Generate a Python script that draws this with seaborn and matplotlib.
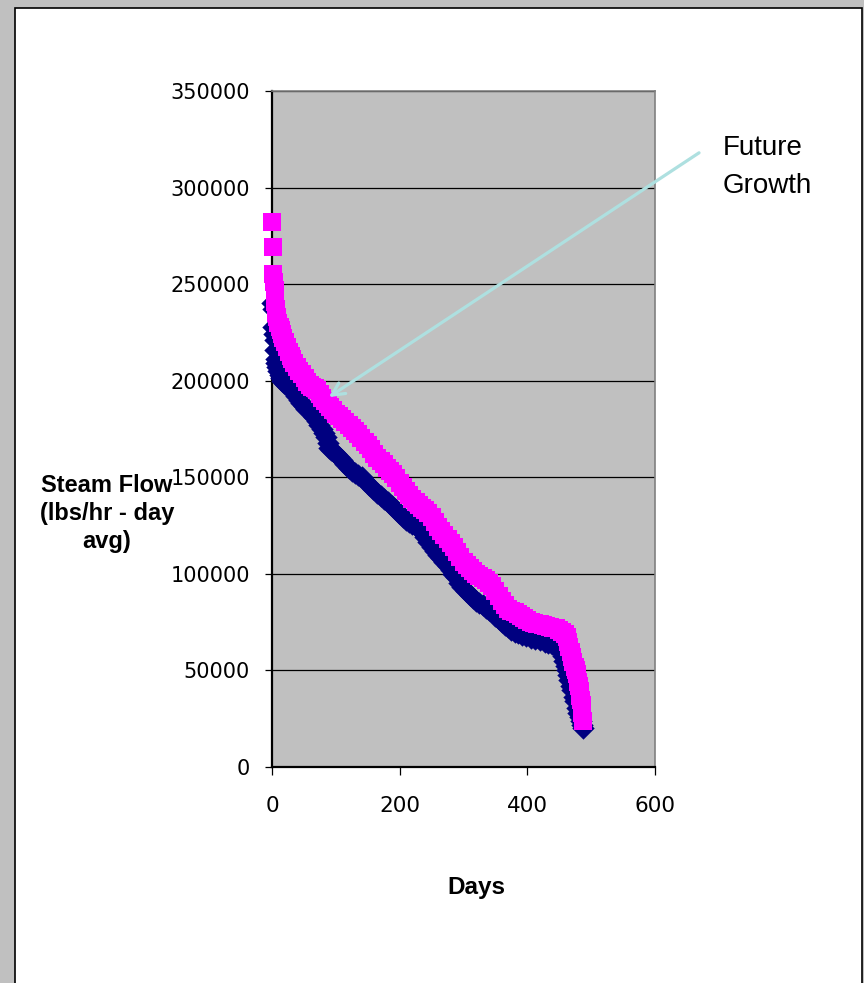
import pandas as pd
import matplotlib
matplotlib.use("Agg")
import matplotlib.pyplot as plt
import seaborn as sns
from matplotlib.patches import Rectangle

# =========================
# Data (duration curves, sorted high -> low)
# =========================
current_days = [0, 1, 2, 3, 4, 5, 6, 7, 8, 10, 12, 14, 16, 19, 22, 25, 28, 31, 34, 38,
                42, 46, 50, 54, 58, 63, 66, 70, 74, 78, 82, 85, 87, 89, 93, 97, 100, 105,
                110, 115, 120, 125, 130, 135, 141, 146, 152, 158, 165, 170, 175, 181, 188,
                193, 199, 205, 210, 215, 220, 225, 230, 235, 240, 245, 250, 255, 260, 265,
                270, 275, 280, 284, 288, 293, 298, 304, 310, 315, 320, 325, 330, 335, 340,
                345, 350, 355, 360, 365, 370, 375, 380, 386, 392, 398, 405, 412, 420, 427,
                433, 439, 445, 450, 453, 456, 458, 460, 462, 464, 465, 468, 470, 473, 475,
                478, 480, 482, 484, 486, 487]
current_flow = [240000, 237000, 228000, 224000, 221000, 216000, 211000, 209000, 207000,
                205000, 203000, 201500, 200000, 199000, 198000, 197500, 196500, 195000,
                194000, 192000, 190000, 188500, 187000, 185500, 184500, 183000, 181000,
                179000, 177000, 175000, 173000, 171000, 168000, 165000, 164000, 163000,
                162000, 160500, 159000, 157000, 155000, 153500, 152000, 151000, 150000,
                148000, 146000, 144000, 142000, 140500, 139000, 137000, 135000, 133500,
                131500, 129500, 128000, 127000, 126000, 125000, 124000, 121500, 119000,
                116500, 114000, 112000, 110000, 108000, 106000, 104000, 102000, 100000,
                98500, 95500, 93000, 91000, 89000, 87500, 86000, 85000, 84000, 82500,
                81500, 80000, 78000, 76500, 75000, 73500, 72500, 71000, 70000, 69200,
                68500, 67800, 67000, 66300, 65500, 64800, 64200, 63500, 62200, 61000,
                60000, 57500, 55000, 52500, 50000, 47500, 45000, 42000, 40000, 36500,
                34000, 30500, 28000, 26000, 24000, 22000, 20000]

future_days = [0, 1, 2, 3, 4, 5, 6, 7, 8, 10, 12, 14, 16, 18, 20, 23, 26, 29, 32, 35, 39,
               43, 47, 51, 55, 59, 63, 67, 71, 75, 79, 83, 87, 91, 95, 100, 105, 110, 115,
               120, 125, 130, 135, 140, 145, 150, 155, 160, 165, 170, 175, 180, 185, 190,
               195, 200, 205, 210, 215, 220, 225, 230, 235, 240, 245, 250, 255, 260, 265,
               270, 275, 280, 285, 290, 295, 300, 305, 310, 315, 320, 325, 330, 335, 340,
               345, 350, 355, 360, 365, 370, 375, 380, 385, 390, 395, 400, 405, 410, 415,
               420, 425, 430, 435, 440, 445, 450, 455, 459, 462, 464, 466, 468, 470, 472,
               474, 476, 478, 480, 481, 482, 483, 484, 485, 486, 487]
future_flow = [282000, 269000, 255000, 251000, 247000, 241000, 237000, 235000, 233000,
               230000, 228000, 226000, 224000, 222000, 220000, 217500, 215000, 213000,
               211000, 209000, 207000, 205000, 203500, 201500, 199500, 198000, 197000,
               196000, 195000, 193000, 191000, 189500, 188000, 186500, 185000, 183000,
               181500, 180000, 178500, 177000, 175500, 174000, 172500, 170500, 168500,
               166500, 164500, 162000, 160000, 158500, 157000, 155000, 153500, 151500,
               149500, 147000, 145000, 143000, 141000, 139000, 137000, 135500, 134000,
               133000, 131500, 129500, 127000, 124500, 122000, 120000, 118000, 116000,
               114000, 111500, 108500, 106000, 104500, 103000, 101500, 100000, 99000,
               98000, 97000, 95500, 93500, 91000, 88500, 86000, 84000, 82000, 81000,
               80000, 79000, 78000, 77000, 76000, 75000, 74500, 74000, 73800, 73300,
               73000, 72600, 72200, 71800, 71000, 70000, 69000, 67500, 64500, 62000,
               59500, 57000, 54500, 52000, 50000, 48000, 44000, 42000, 39500, 37000,
               34500, 32000, 28000, 24000]

x_ticks = [0, 200, 400, 600]
y_ticks = [0, 50000, 100000, 150000, 200000, 250000, 300000, 350000]

df_current = pd.DataFrame({"Days": current_days, "Flow": current_flow})
df_future = pd.DataFrame({"Days": future_days, "Flow": future_flow})

# =========================
# Figure
# =========================
sns.set_style("white")
plt.rcParams["font.family"] = ["Liberation Sans", "DejaVu Sans"]
plt.rcParams["text.color"] = "black"

W, H = 864, 983
fig = plt.figure(figsize=(W / 100, H / 100), dpi=100, facecolor="#c0c0c0")

# white page with black frame
fig.patches.append(Rectangle((15 / W, -0.02), (862 - 15) / W, (H - 8) / H + 0.02,
                             transform=fig.transFigure, facecolor="white",
                             edgecolor="black", lw=1.2, zorder=-5))

ax = fig.add_axes([272 / W, (H - 767) / H, (655 - 272) / W, (767 - 91) / H])
ax.set_zorder(1)
ax.set_facecolor("#c0c0c0")

sns.scatterplot(data=df_current, x="Days", y="Flow", ax=ax, marker="D", s=130,
                color="#000080", linewidth=0, zorder=3, clip_on=False)
sns.scatterplot(data=df_future, x="Days", y="Flow", ax=ax, marker="s", s=155,
                color="#ff00ff", linewidth=0, zorder=4, clip_on=False)

ax.set_xlim(0, 600)
ax.set_ylim(0, 350000)
ax.set_xticks(x_ticks)
ax.set_xticklabels([str(v) for v in x_ticks], family="DejaVu Sans", fontsize=15.5)
ax.set_yticks(y_ticks)
ax.set_yticklabels([str(v) for v in y_ticks], family="DejaVu Sans", fontsize=15)
ax.tick_params(axis="y", direction="out", length=5, width=0.9, pad=11, colors="black", left=True)
ax.tick_params(axis="x", direction="out", length=6, width=0.9, pad=15, colors="black", bottom=True)
ax.set_xlabel("")
ax.set_ylabel("")

ax.yaxis.grid(True, color="black", lw=0.9)
ax.xaxis.grid(False)
ax.set_axisbelow(True)

for side in ["left", "bottom"]:
    ax.spines[side].set_color("black")
    ax.spines[side].set_linewidth(1.6)
for side in ["top", "right"]:
    ax.spines[side].set_color("#808080")
    ax.spines[side].set_linewidth(1.2)

# axis titles
fig.text(107 / W, (H - 548) / H, "Steam Flow\n(lbs/hr - day\navg)", ha="center",
         va="baseline", multialignment="center", fontsize=17, fontweight="bold",
         linespacing=1.27, color="black")
fig.text(476 / W, (H - 894) / H, "Days", ha="center", va="baseline",
         fontsize=17.5, fontweight="bold", color="black")

# annotation (drawn above the markers)
ax.annotate("", xy=(89, 191500), xytext=(669, 318000), xycoords="data",
            textcoords="data", annotation_clip=False, zorder=6,
            arrowprops=dict(arrowstyle="->,head_length=0.9,head_width=0.45",
                            color="#aee0e0", lw=2.3, shrinkA=0, shrinkB=0))
fig.text(723 / W, (H - 193) / H, "Future\nGrowth", ha="left", va="baseline",
         fontsize=20, linespacing=1.59, color="black")

fig.savefig("out.png", dpi=100, facecolor=fig.get_facecolor())
